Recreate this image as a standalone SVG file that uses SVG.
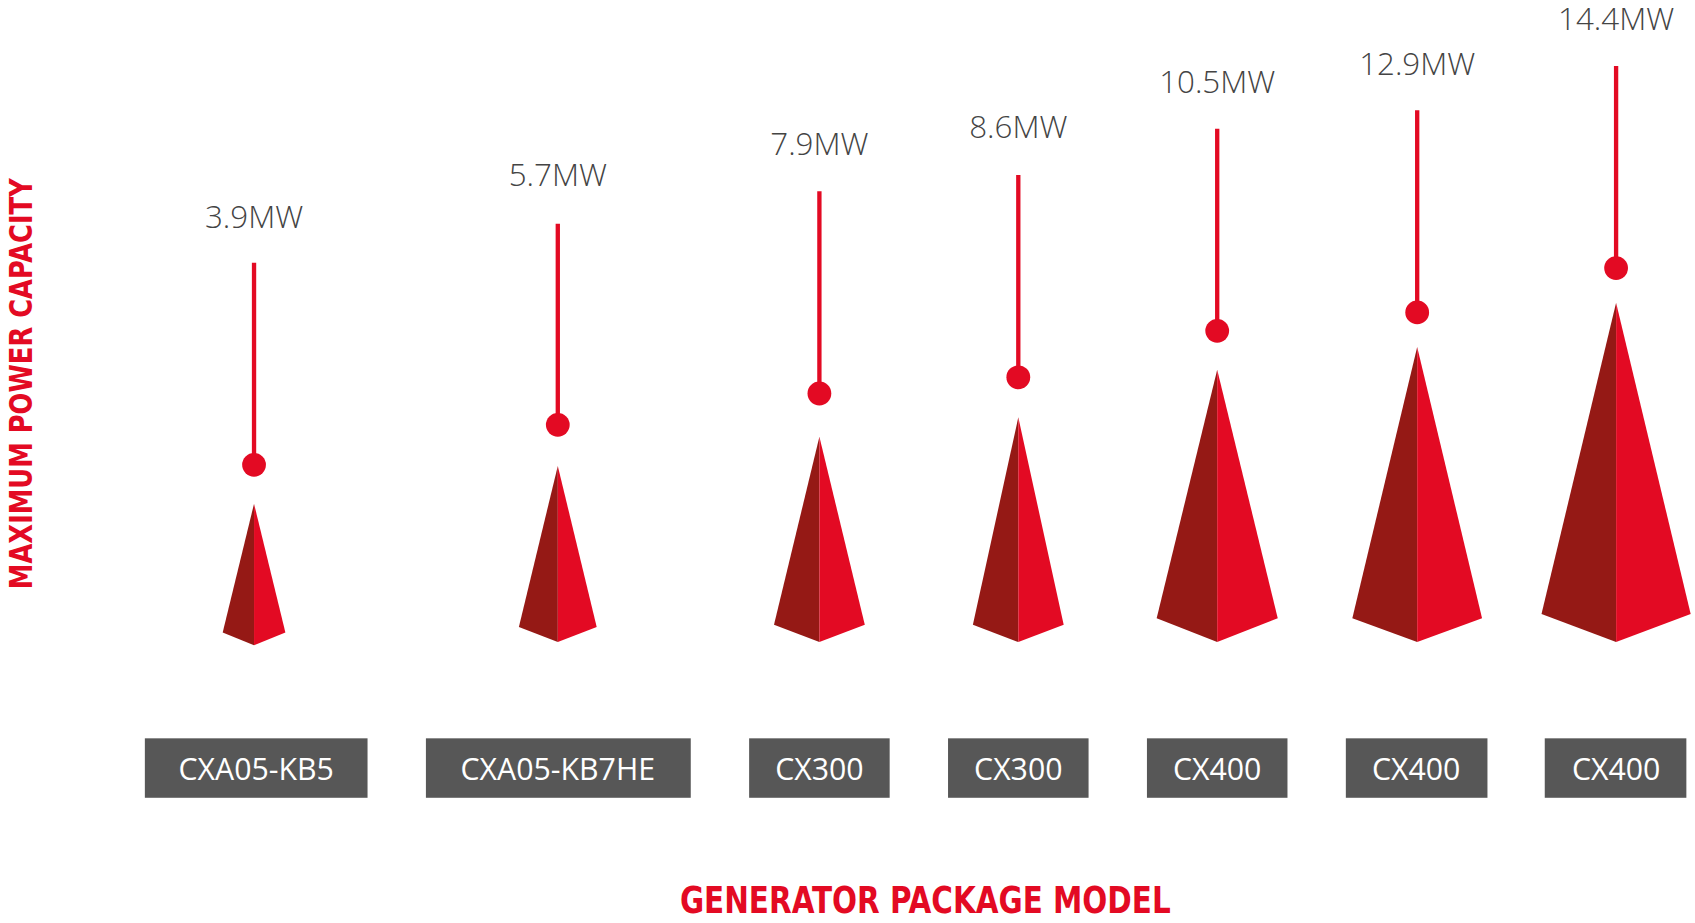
<svg xmlns="http://www.w3.org/2000/svg" width="1695" height="923" viewBox="0 0 1695 923">
<style>
.d{fill:#951915}.r{fill:#e30a23}.st{stroke:#e30a23;stroke-width:4}
.v{font-family:"Open Sans",sans-serif;font-weight:300;font-size:29px;fill:#444;text-anchor:middle}
.b{fill:#575757}.bt{font-family:"Open Sans",sans-serif;font-size:28px;fill:#fff;text-anchor:middle}
.ax{font-family:"DejaVu Sans Condensed","DejaVu Sans",sans-serif;font-weight:bold;fill:#e30a23;text-anchor:middle}
</style>
<rect width="1695" height="923" fill="#fff"/>
<g transform="scale(1.081)">
<g id="connectors">
<line class="st" x1="235" y1="243" x2="235" y2="430"/>
<line class="st" x1="516" y1="207" x2="516" y2="393"/>
<line class="st" x1="758" y1="177" x2="758" y2="364"/>
<line class="st" x1="942" y1="162" x2="942" y2="349"/>
<line class="st" x1="1126" y1="119" x2="1126" y2="306"/>
<line class="st" x1="1311" y1="102" x2="1311" y2="289"/>
<line class="st" x1="1495" y1="61" x2="1495" y2="248"/>
</g>
<g id="n1"><text class="v" x="235" y="211">3.9MW</text><circle class="r" cx="235" cy="430" r="11"/><path class="d" d="M235 466L206 585L235 597Z"/><path class="r" d="M235 466L264 585L235 597Z"/><rect class="b" x="134" y="683" width="206" height="55"/><text class="bt" x="237" y="722">CXA05-KB5</text></g>
<g id="n2"><text class="v" x="516" y="172">5.7MW</text><circle class="r" cx="516" cy="393" r="11"/><path class="d" d="M516 431L480 580L516 594Z"/><path class="r" d="M516 431L552 580L516 594Z"/><rect class="b" x="394" y="683" width="245" height="55"/><text class="bt" x="516" y="722">CXA05-KB7HE</text></g>
<g id="n3"><text class="v" x="758" y="143">7.9MW</text><circle class="r" cx="758" cy="364" r="11"/><path class="d" d="M758 404L716 578L758 594Z"/><path class="r" d="M758 404L800 578L758 594Z"/><rect class="b" x="693" y="683" width="130" height="55"/><text class="bt" x="758" y="722">CX300</text></g>
<g id="n4"><text class="v" x="942" y="128">8.6MW</text><circle class="r" cx="942" cy="349" r="11"/><path class="d" d="M942 386L900 578L942 594Z"/><path class="r" d="M942 386L984 578L942 594Z"/><rect class="b" x="877" y="683" width="130" height="55"/><text class="bt" x="942" y="722">CX300</text></g>
<g id="n5"><text class="v" x="1126" y="86">10.5MW</text><circle class="r" cx="1126" cy="306" r="11"/><path class="d" d="M1126 342L1070 572L1126 594Z"/><path class="r" d="M1126 342L1182 572L1126 594Z"/><rect class="b" x="1061" y="683" width="130" height="55"/><text class="bt" x="1126" y="722">CX400</text></g>
<g id="n6"><text class="v" x="1311" y="69">12.9MW</text><circle class="r" cx="1311" cy="289" r="11"/><path class="d" d="M1311 321L1251 572L1311 594Z"/><path class="r" d="M1311 321L1371 572L1311 594Z"/><rect class="b" x="1245" y="683" width="131" height="55"/><text class="bt" x="1310" y="722">CX400</text></g>
<g id="n7"><text class="v" x="1495" y="28">14.4MW</text><circle class="r" cx="1495" cy="248" r="11"/><path class="d" d="M1495 280L1426 568L1495 594Z"/><path class="r" d="M1495 280L1564 568L1495 594Z"/><rect class="b" x="1429" y="683" width="131" height="55"/><text class="bt" x="1495" y="722">CX400</text></g>
<text class="ax" x="856" y="845" font-size="35" textLength="454" lengthAdjust="spacingAndGlyphs">GENERATOR PACKAGE MODEL</text>
<text class="ax" transform="translate(30,355) rotate(-90)" font-size="30" textLength="380" lengthAdjust="spacingAndGlyphs">MAXIMUM POWER CAPACITY</text>
</g>
</svg>
